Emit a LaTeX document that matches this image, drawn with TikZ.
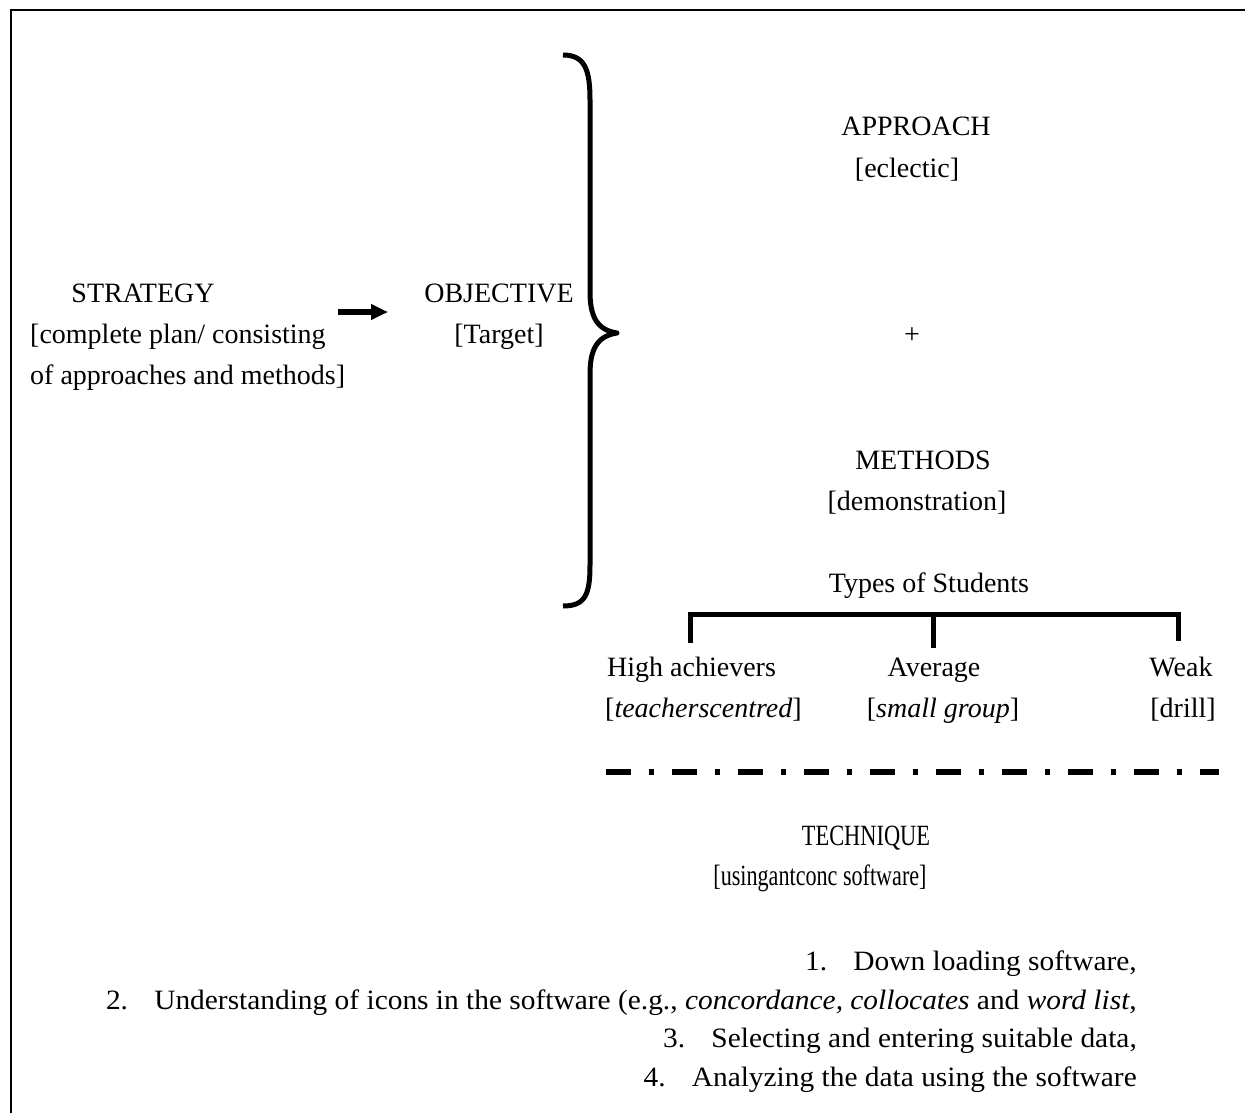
\documentclass[tikz,border=0pt]{standalone}
\usepackage{fontspec}
\setmainfont{Liberation Serif}
\usetikzlibrary{arrows.meta}
\begin{document}
\begin{tikzpicture}[x=1pt,y=-1pt,
  txt/.style={font=\fontsize{28}{41}\selectfont, inner sep=0pt, anchor=base},
  lst/.style={font=\fontsize{28}{41}\selectfont, inner sep=0pt, anchor=base east},
  heavy/.style={line width=5pt},
  frameline/.style={line width=2pt}]
\useasboundingbox (0,0) rectangle (1245,1113);
\draw[frameline] (10.5,1113) -- (10.5,10.5) -- (1245,10.5);

% strategy
\node[txt] (s1) at (143,302) {STRATEGY};
\node[txt,anchor=base west] (s2) at (30,343) {[complete plan/ consisting};
\node[txt,anchor=base west] (s3) at (30,384) {of approaches and methods]};

% objective
\node[txt] (o1) at (499,302) {OBJECTIVE};
\node[txt] (o2) at (499,343) {[Target]};

\coordinate (a1) at (338,312);
\coordinate (a2) at (388,312);
\draw[line width=5.5pt,-{Triangle[length=17pt,width=15pt]}] (a1) -- (a2);

% brace
\draw[heavy,line join=round] (563,55) .. controls (585,55) and (590,70) .. (590,100)
  -- (590,292) .. controls (590,318) and (598,330) .. (617,333)
  .. controls (598,336) and (590,348) .. (590,374)
  -- (590,565) .. controls (590,595) and (585,606) .. (563,606);

% approach / methods
\node[txt] (ap1) at (916,136) {APPROACH};
\node[txt] (ap2) at (907,177) {[eclectic]};
\node[txt] (plus) at (912,343) {+};
\node[txt] (m1) at (923,469) {METHODS};
\node[txt] (m2) at (917,510) {[demonstration]};

% types of students
\node[txt] (ty) at (929,592) {Types of Students};
\coordinate (bl) at (690,643);
\coordinate (br) at (1178,641);
\coordinate (bm) at (933,648);
\coordinate (blt) at (690,614);
\coordinate (brt) at (1178,614);
\coordinate (bmt) at (933,614);
\draw[heavy] (bl) -- (blt) -- (brt) -- (br);
\draw[heavy] (bmt) -- (bm);

\node[txt,anchor=base west] (h1) at (607,676) {High achievers};
\node[txt,anchor=base west] (h2) at (605,717) {[\textit{teacherscentred}]};
\node[txt] (av1) at (934,676) {Average};
\node[txt] (av2) at (943,717) {[\textit{small group}]};
\node[txt] (w1) at (1181,676) {Weak};
\node[txt] (w2) at (1183,717) {[drill]};

% dash-dot line
\coordinate (d1) at (606,772);
\coordinate (d2) at (1219,772);
\draw[line width=5.5pt, dash pattern=on 24.5pt off 18pt on 5.5pt off 18pt] (d1) -- (d2);

% technique
\node[txt] (t1) at (866,845) {\scalebox{0.8}[1.05]{TECHNIQUE}};
\node[txt] (t2) at (820,885) {\scalebox{0.79}[1.05]{[usingantconc software]}};

% list
\node[lst] (l1) at (1137,970) {\scalebox{1.05}[1]{1.\hspace{25pt}Down loading software,}};
\node[lst] (l2) at (1137,1009) {\scalebox{1.05}[1]{2.\hspace{25pt}Understanding of icons in the software (e.g., \textit{concordance, collocates} and \textit{word list},}};
\node[lst] (l3) at (1137,1047) {\scalebox{1.05}[1]{3.\hspace{25pt}Selecting and entering suitable data,}};
\node[lst] (l4) at (1137,1086) {\scalebox{1.05}[1]{4.\hspace{25pt}Analyzing the data using the software}};
\end{tikzpicture}
\end{document}
